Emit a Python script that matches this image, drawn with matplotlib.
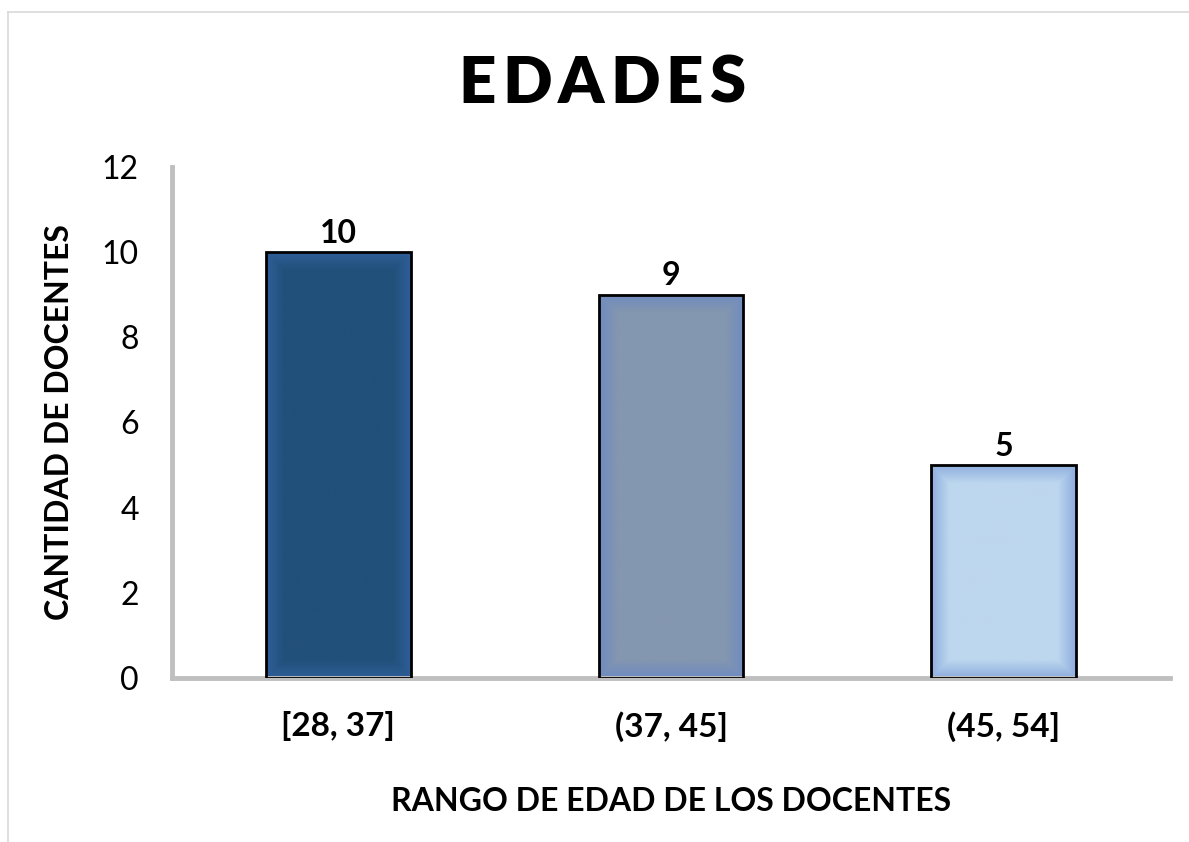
import matplotlib.pyplot as plt
import numpy as np
from matplotlib.colors import LinearSegmentedColormap
from matplotlib.lines import Line2D

rangos = ['[28, 37]', '(37, 45]', '(45, 54]']
docentes = [10, 9, 5]
# centro / borde del degradado de cada barra
colores_centro = ['#21507A', '#8497B0', '#BDD7EE']
colores_borde = ['#2F5E98', '#6F8BC0', '#8FAEDF']

plt.rcParams['font.family'] = ['Lato', 'DejaVu Sans']

fig = plt.figure(figsize=(11.89, 8.42), dpi=100)
ax = fig.add_axes([0.1447, 0.1948, 0.8393, 0.6069])

x = np.arange(len(rangos))
bars = ax.bar(x, docentes, width=0.435, color='none', edgecolor='black',
              linewidth=2, zorder=3)

ax.set_xlim(-0.5, len(rangos) - 0.5)
ax.set_ylim(0, 12)
ax.set_yticks(range(0, 13, 2))
ax.set_xticks(x)
ax.set_xticklabels(rangos, fontsize=24, fontweight='bold')
ax.tick_params(axis='y', labelsize=23, length=0, pad=24)
ax.tick_params(axis='x', length=0, pad=24)

for s in ['top', 'right']:
    ax.spines[s].set_visible(False)
for s in ['left', 'bottom']:
    ax.spines[s].set_color('#BFBFBF')
    ax.spines[s].set_linewidth(3.5)

# degradado suave hacia los bordes dentro de cada barra
fig.canvas.draw()
for i, bar in enumerate(bars):
    c0, c1 = colores_centro[i], colores_borde[i]
    bx, by = bar.get_x(), bar.get_y()
    bw, bh = bar.get_width(), bar.get_height()
    p0 = ax.transData.transform((bx, by))
    p1 = ax.transData.transform((bx + bw, by + bh))
    wpx, hpx = int(abs(p1[0] - p0[0])), int(abs(p1[1] - p0[1]))
    xx, yy = np.meshgrid(np.arange(wpx), np.arange(hpx))
    d = np.minimum(np.minimum(xx, wpx - 1 - xx), np.minimum(yy, hpx - 1 - yy))
    t = np.clip(d / 18.0, 0, 1)
    cmap = LinearSegmentedColormap.from_list('g', [c1, c0])
    im = ax.imshow(t, cmap=cmap, vmin=0, vmax=1, aspect='auto',
                   extent=(bx, bx + bw, by, by + bh), zorder=2,
                   interpolation='bilinear')
    im.set_clip_path(bar)
    ax.text(bx + bw / 2, by + bh + 0.1, str(docentes[i]),
            ha='center', va='bottom', fontsize=23, fontweight='bold')

ax.set_xlim(-0.5, len(rangos) - 0.5)
ax.set_ylim(0, 12)

ax.set_ylabel('CANTIDAD DE DOCENTES', fontsize=23, fontweight='bold',
              labelpad=20)
ax.set_xlabel('RANGO DE EDAD DE LOS DOCENTES', fontsize=23,
              fontweight='bold', labelpad=32)

# título con espaciado entre letras
titulo = 'EDADES'
renderer = fig.canvas.get_renderer()
letras = []
for ch in titulo:
    t = fig.text(0, 0.90, ch, ha='left', va='center', fontsize=47,
                 fontweight='heavy')
    letras.append(t)
anchos = [t.get_window_extent(renderer).width for t in letras]
espacio = 6
total = sum(anchos) + espacio * (len(titulo) - 1)
xpos = 602 - total / 2
for t, w in zip(letras, anchos):
    t.set_x(xpos / 1189)
    xpos += w + espacio

# marco del gráfico
fig.add_artist(Line2D([8 / 1189, 8 / 1189], [0, 1 - 12 / 842],
                      transform=fig.transFigure, color='#D9D9D9', lw=1.2))
fig.add_artist(Line2D([8 / 1189, 1], [1 - 12 / 842, 1 - 12 / 842],
                      transform=fig.transFigure, color='#D9D9D9', lw=1.2))

fig.savefig('out.png', dpi=100)
